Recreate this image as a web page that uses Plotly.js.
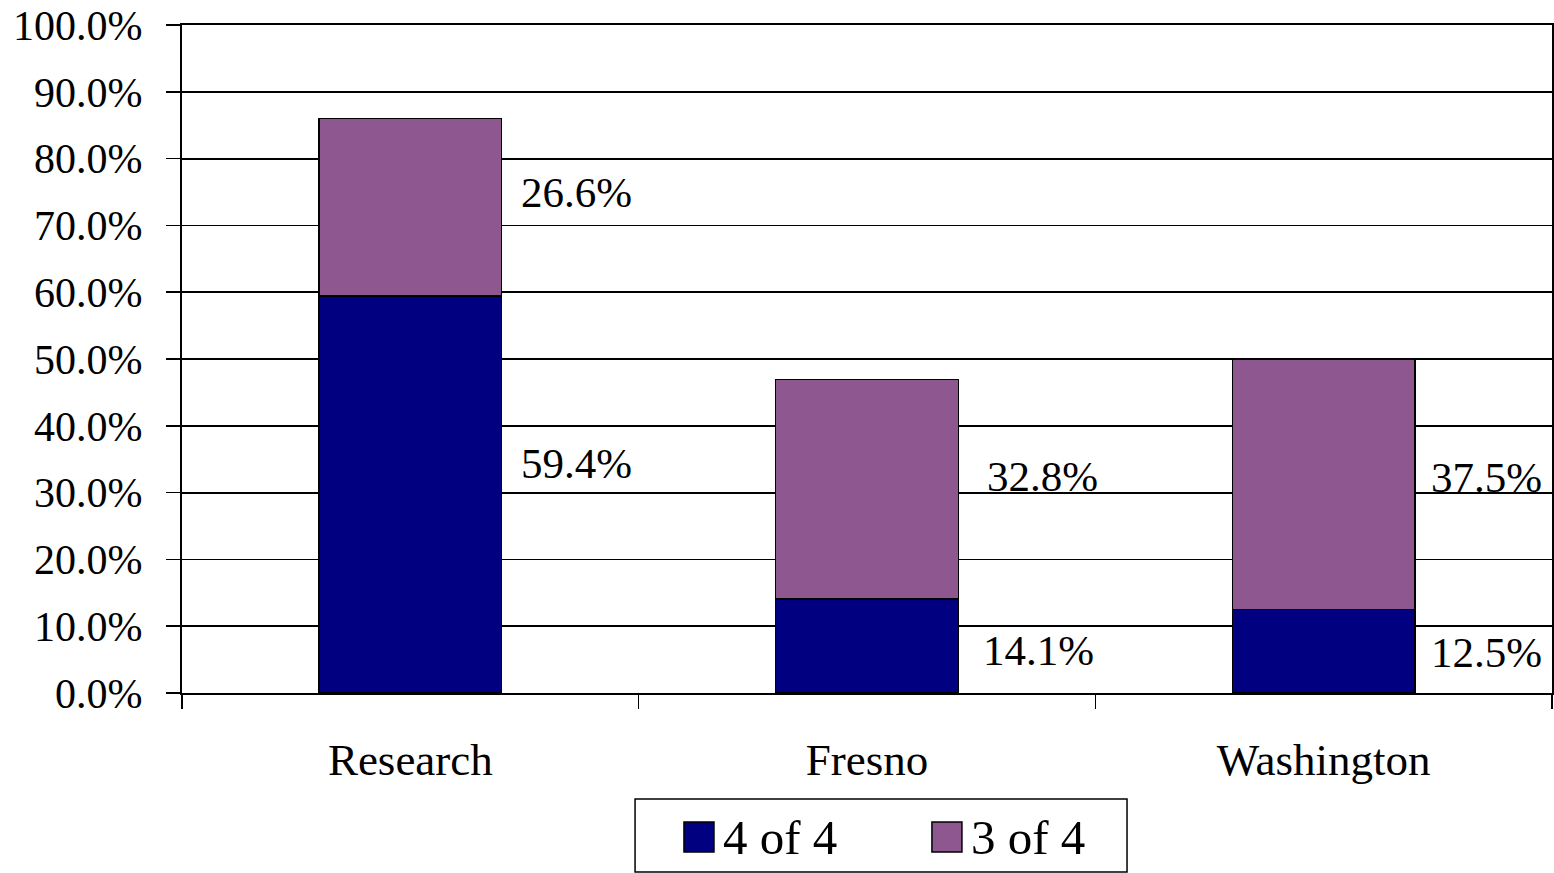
<!DOCTYPE html>
<html>
<head>
<meta charset="utf-8">
<script src="https://cdn.plot.ly/plotly-3.0.1.min.js"></script>
<style>
html,body{margin:0;padding:0;background:#fff;}
#chart{width:1554px;height:873px;}
</style>
</head>
<body>
<div id="chart"></div>
<script>
var categories = ["Research", "Fresno", "Washington"];
var fourOfFour = [59.4, 14.1, 12.5];
var threeOfFour = [26.6, 32.8, 37.5];
var seriesNames = ["4 of 4", "3 of 4"];
var yTickValues = [0, 10, 20, 30, 40, 50, 60, 70, 80, 90, 100];

var FONT = "Liberation Serif, Times New Roman, serif";
var navy = "#000080";
var plum = "#8F578F";
var colors = [navy, plum];

var traces = [
  {type: "bar", name: seriesNames[0], x: categories, y: fourOfFour,
   marker: {color: colors[0], line: {color: "#000", width: 1.5}}, hoverinfo: "y", showlegend: false},
  {type: "bar", name: seriesNames[1], x: categories, y: threeOfFour,
   marker: {color: colors[1], line: {color: "#000", width: 1.5}}, hoverinfo: "y", showlegend: false}
];

// label offsets (pixels) — styling only
var bottomShift = [31, -5, -1];
var topShift = [15, 13, 7];
var bottomXShift = [17, 23, 14];
var topXShift = [17, 27, 14];

var annotations = [];
var labelFont = {family: FONT, size: 43, color: "#000"};
categories.forEach(function(c, i) {
  annotations.push({
    x: i + 0.2, xref: "x", y: fourOfFour[i] / 2, yref: "y",
    text: fourOfFour[i].toFixed(1) + "%", showarrow: false,
    xanchor: "left", yanchor: "middle", xshift: bottomXShift[i], yshift: bottomShift[i],
    font: labelFont
  });
  annotations.push({
    x: i + 0.2, xref: "x", y: fourOfFour[i] + threeOfFour[i] / 2, yref: "y",
    text: threeOfFour[i].toFixed(1) + "%", showarrow: false,
    xanchor: "left", yanchor: "middle", xshift: topXShift[i], yshift: topShift[i],
    font: labelFont
  });
});

// legend (drawn as paper-referenced shapes + text)
var legendBox = {x0: 0.3307, x1: 0.6898, y0: -0.268, y1: -0.1587};
var legendSwatchX = [0.3664, 0.5474];
var swatchW = 0.0219, swatchY0 = -0.2380, swatchY1 = -0.1931;
var legendTextX = [0.3935, 0.5745];
var legendTextY = -0.2156;

var shapes = [{
  type: "rect", xref: "paper", yref: "paper",
  x0: legendBox.x0, x1: legendBox.x1, y0: legendBox.y0, y1: legendBox.y1,
  line: {color: "#000", width: 1.5}, fillcolor: "rgba(0,0,0,0)"
}];
seriesNames.forEach(function(n, i) {
  shapes.push({
    type: "rect", xref: "paper", yref: "paper",
    x0: legendSwatchX[i], x1: legendSwatchX[i] + swatchW, y0: swatchY0, y1: swatchY1,
    line: {color: "#000", width: 1.5}, fillcolor: colors[i]
  });
  annotations.push({
    x: legendTextX[i], xref: "paper", y: legendTextY, yref: "paper",
    text: n, showarrow: false, xanchor: "left", yanchor: "middle",
    font: {family: FONT, size: 49, color: "#000"}
  });
});

var layout = {
  width: 1554, height: 873,
  margin: {l: 182, r: 2, t: 25, b: 180},
  paper_bgcolor: "#fff", plot_bgcolor: "#fff",
  barmode: "stack",
  bargap: 0.6,
  font: {family: FONT, size: 45, color: "#000"},
  xaxis: {
    type: "category",
    range: [-0.5, 2.5],
    showline: true, linecolor: "#000", linewidth: 2, mirror: true,
    ticks: "outside", tickson: "boundaries", ticklen: 14, tickwidth: 1.5, tickcolor: "#000",
    ticklabelstandoff: 26,
    showgrid: false, zeroline: false,
    tickfont: {family: FONT, size: 45, color: "#000"}
  },
  yaxis: {
    range: [0, 100],
    tickvals: yTickValues,
    ticktext: yTickValues.map(function(v){ return v.toFixed(1) + "%"; }),
    showline: true, linecolor: "#000", linewidth: 2, mirror: true,
    ticks: "outside", ticklen: 14, tickwidth: 1.5, tickcolor: "#000",
    ticklabelstandoff: 15,
    showgrid: true, gridcolor: "#000", gridwidth: 1.8,
    zeroline: false,
    tickfont: {family: FONT, size: 42, color: "#000"}
  },
  showlegend: false,
  shapes: shapes,
  annotations: annotations
};

Plotly.newPlot("chart", traces, layout, {staticPlot: true});
</script>
</body>
</html>
